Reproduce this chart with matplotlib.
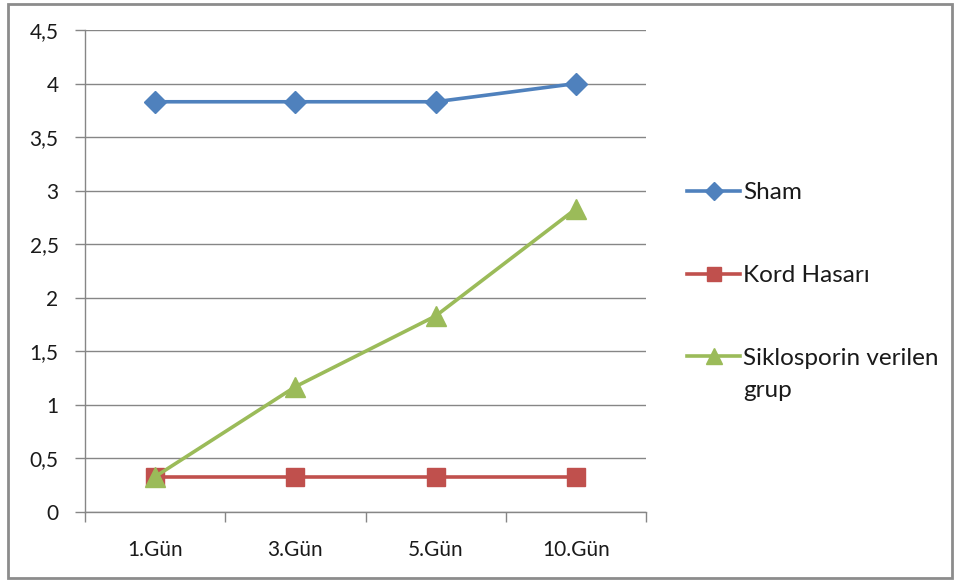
import matplotlib
matplotlib.use('Agg')
import matplotlib.pyplot as plt
from matplotlib.patches import Rectangle
from matplotlib.ticker import MultipleLocator, FuncFormatter

gunler = ['1.Gün', '3.Gün', '5.Gün', '10.Gün']
sham = [3.83, 3.83, 3.83, 4.0]
kord_hasari = [0.33, 0.33, 0.33, 0.33]
siklosporin = [0.33, 1.17, 1.83, 2.83]

plt.rcParams['font.family'] = ['Lato', 'DejaVu Sans']

fig = plt.figure(figsize=(9.6, 5.81), dpi=100)
ax = fig.add_axes([85 / 960, 69 / 581, 561 / 960, 482 / 581])

x = range(len(gunler))
ax.plot(x, sham, color='#4F81BD', lw=2.6, marker='D', ms=11, label='Sham', zorder=3)
ax.plot(x, kord_hasari, color='#C0504D', lw=2.6, marker='s', ms=13, label='Kord Hasarı', zorder=3)
ax.plot(x, siklosporin, color='#9BBB59', lw=2.6, marker='^', ms=14,
        label='Siklosporin verilen', zorder=4)

ax.set_xlim(-0.5, len(gunler) - 0.5)
ax.set_ylim(0, 4.5)
ax.yaxis.set_major_locator(MultipleLocator(0.5))
ax.yaxis.set_major_formatter(FuncFormatter(lambda v, p: ('%g' % v).replace('.', ',')))
ax.set_xticks(list(x))
ax.set_xticklabels(gunler)
ax.set_xticks([i + 0.5 for i in range(-1, len(gunler))], minor=True)
ax.tick_params(axis='x', which='major', length=0, pad=20, labelsize=15, colors='#1a1a1a')
ax.tick_params(axis='x', which='minor', length=7, color='#868686', width=1)
ax.tick_params(axis='y', length=7, color='#868686', width=1, pad=12, labelsize=15,
               labelcolor='#1a1a1a')

ax.grid(axis='y', color='#868686', lw=1)
ax.set_axisbelow(True)
for side in ['top', 'right']:
    ax.spines[side].set_visible(False)
for side in ['left', 'bottom']:
    ax.spines[side].set_color('#868686')
    ax.spines[side].set_linewidth(1)

# legend: three rows, second line of the last label added as plain text below it
leg = fig.legend(loc='upper left', bbox_to_anchor=(687 / 960, 1 - 182 / 581),
                 frameon=False, fontsize=17.5, handlelength=2.2, handletextpad=0.12,
                 labelspacing=2.55, markerscale=0.8, borderpad=0, borderaxespad=0)
for t in leg.get_texts():
    t.set_color('#1a1a1a')

fig.canvas.draw()
bb = leg.get_texts()[2].get_window_extent().transformed(fig.transFigure.inverted())
fig.text(bb.x0, bb.y0 - 32 / 581, 'grup', fontsize=17.5, color='#1a1a1a',
         ha='left', va='bottom')

fig.add_artist(Rectangle((8 / 960, 3 / 581), 944 / 960, 574 / 581, transform=fig.transFigure,
                         fill=False, edgecolor='#8c8c8c', lw=2))

fig.savefig('out.png', dpi=100)
